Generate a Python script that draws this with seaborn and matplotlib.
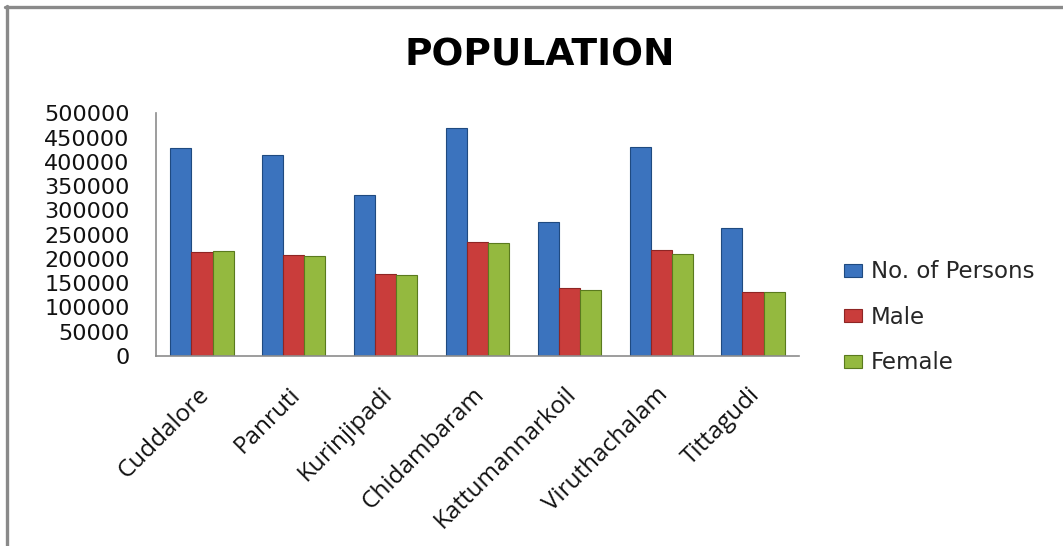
import matplotlib
matplotlib.use("Agg")
import matplotlib.pyplot as plt
import matplotlib.transforms as mtransforms
import seaborn as sns
import pandas as pd
from matplotlib.lines import Line2D
from matplotlib.patches import Patch

categories = ["Cuddalore", "Panruti", "Kurinjipadi", "Chidambaram",
              "Kattumannarkoil", "Viruthachalam", "Tittagudi"]
persons = [429500, 413800, 331300, 469400, 276300, 430300, 263200]
male = [213800, 207600, 169100, 235100, 139500, 217900, 131300]
female = [216500, 206200, 166300, 232300, 136800, 209600, 131300]
series_names = ["No. of Persons", "Male", "Female"]
colors = ["#3b73be", "#c93d3b", "#94b93f"]
edge_colors = ["#1f4a80", "#8e2524", "#5a7a1e"]
yticks = [0, 50000, 100000, 150000, 200000, 250000, 300000, 350000, 400000, 450000, 500000]

rows = []
for s, vals in zip(series_names, [persons, male, female]):
    for c, v in zip(categories, vals):
        rows.append({"Place": c, "Series": s, "Value": v})
df = pd.DataFrame(rows)

sns.set_theme(style="white")
plt.rcParams["font.family"] = ["DejaVu Sans"]

fig = plt.figure(figsize=(10.63, 5.46), dpi=100)
ax = fig.add_axes([0.1468, 0.348, 0.6048, 0.4445])

sns.barplot(data=df, x="Place", y="Value", hue="Series", order=categories,
            hue_order=series_names, palette=colors, width=0.69, gap=0,
            saturation=1, legend=False, ax=ax, errorbar=None)

n = len(categories)
for i, bar in enumerate(ax.patches[:3 * n]):
    si = i // n
    bar.set_edgecolor(edge_colors[si])
    bar.set_linewidth(0.8)

ax.set_ylim(0, 500000)
ax.set_xlim(-0.5, n - 0.5)
ax.set_yticks(yticks)
ax.set_yticklabels([str(t) for t in yticks], fontsize=16, color="#111111")
ax.set_xticks(range(n))
ax.set_xticklabels(categories, rotation=45, ha="right", rotation_mode="anchor",
                   fontsize=17.5, family="Open Sans", color="#111111")
ax.tick_params(axis="y", length=0, pad=19)
ax.tick_params(axis="x", length=0, pad=19)
offset = mtransforms.ScaledTranslation(-5 / 100, 0, fig.dpi_scale_trans)
for lbl in ax.get_xticklabels():
    lbl.set_transform(lbl.get_transform() + offset)
ax.set_xlabel("")
ax.set_ylabel("")
for side in ["top", "right"]:
    ax.spines[side].set_visible(False)
for side in ["left", "bottom"]:
    ax.spines[side].set_color("#8c8c8c")
    ax.spines[side].set_linewidth(1.2)

fig.text(0.508, 0.898, "POPULATION", ha="center", va="center",
         fontsize=27, fontweight="bold", family="DejaVu Sans", color="#000000")

handles = [Patch(facecolor=c, edgecolor=e, linewidth=0.8) for c, e in zip(colors, edge_colors)]
fig.legend(handles, series_names, loc="upper left", bbox_to_anchor=(0.785, 0.54),
           frameon=False, fontsize=16.5, handlelength=0.8, handleheight=0.5,
           handletextpad=0.4, labelspacing=0.98, borderaxespad=0)

fig.add_artist(Line2D([5 / 1063, 1.0], [1 - 7 / 546, 1 - 7 / 546],
                      transform=fig.transFigure, color="#8a8a8a", linewidth=2.4))
fig.add_artist(Line2D([6.5 / 1063, 6.5 / 1063], [0, 1 - 6 / 546],
                      transform=fig.transFigure, color="#8a8a8a", linewidth=2.4))

fig.savefig("out.png", dpi=100, facecolor="white")
